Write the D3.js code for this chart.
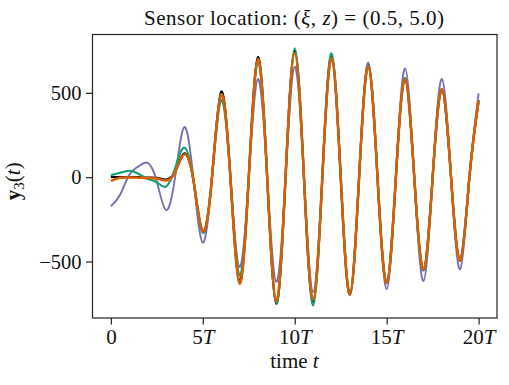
<!DOCTYPE html>
<html>
<head>
<meta charset="utf-8">
<script src="https://cdn.jsdelivr.net/npm/d3@7/dist/d3.min.js"></script>
<style>
  body { margin: 0; background: #fff; }
  svg { display: block; }
  text { font-family: "Liberation Serif", "DejaVu Serif", serif; fill: #111; }
</style>
</head>
<body>
<svg id="chart" width="509" height="385"></svg>
<script>
// temps, en multiples de T (pas de 0.5T)
var times = d3.range(0, 20.01, 0.5);

// valeurs, une liste par courbe
var blackVals = [2, 0, 0, 0, -2, -4, -14, 35, 141, -25, -325, 0, 507, 0, -620, 0, 711, 0, -750, 0,
                 750, 0, -740, 0, 720, 0, -695, 0, 665, 0, -627, 0, 586, 0, -552, 0, 521, 0, -493, 0, 455];
var purpleVals = [-172, -104, 15, 64, 85, -25, -195, 5, 297, -20, -388, 0, 490, 0, -533, 0, 582, 0, -621, 0,
                  655, 0, -681, 0, 690, 0, -700, 0, 681, 0, -663, 0, 645, 0, -616, 0, 582, 0, -546, 0, 497];
var greenVals = [12, 26, 38, 20, -10, -30, -55, 55, 175, -25, -330, 0, 457, 0, -582, 0, 685, 0, -745, 0,
                 764, 0, -760, 0, 734, 0, -695, 0, 660, 0, -627, 0, 586, 0, -550, 0, 521, 0, -493, 0, 455];
var orangeVals = [-22, -3, -2, -3, -5, -8, -20, 30, 135, -25, -320, 0, 490, 0, -631, 0, 700, 0, -735, 0,
                  734, 0, -726, 0, 705, 0, -695, 0, 655, 0, -627, 0, 580, 0, -545, 0, 521, 0, -493, 0, 453];

var xTicks = [0, 5, 10, 15, 20];
var xTickLabels = ["0", "5", "10", "15", "20"];
var yTicks = [-500, 0, 500];
var yTickLabels = ["\u2212500", "0", "500"];

//////////////////// MISE EN PAGE ////////////////////
var box = { left: 92.5, right: 497, top: 34.5, bottom: 318 };
var svg = d3.select("#chart");

var x = d3.scaleLinear().domain([-1, 21]).range([box.left, box.right]);
var y = d3.scaleLinear().domain([-835, 846]).range([box.bottom, box.top]);

// courbes : noir dessous, orange dessus
var series = [
  { vals: blackVals, color: "#000000", width: 2.2 },
  { vals: purpleVals, color: "#7570b3", width: 1.9 },
  { vals: greenVals, color: "#1b9e77", width: 2.2 },
  { vals: orangeVals, color: "#d95f02", width: 2.5 }
];

var line = d3.line()
  .x(function(d) { return x(d[0]); })
  .y(function(d) { return y(d[1]); })
  .curve(d3.curveNatural);

var plot = svg.append("g");
series.forEach(function(s) {
  var pts = times.map(function(t, i) { return [t, s.vals[i]]; });
  plot.append("path")
    .datum(pts)
    .attr("d", line)
    .attr("fill", "none")
    .attr("stroke", s.color)
    .attr("stroke-width", s.width)
    .attr("stroke-linejoin", "round");
});

// cadre
svg.append("rect")
  .attr("x", box.left).attr("y", box.top)
  .attr("width", box.right - box.left).attr("height", box.bottom - box.top)
  .attr("fill", "none").attr("stroke", "#2a2a2a").attr("stroke-width", 1.25);

//////////////////// AXES ////////////////////
var xAxis = svg.append("g")
  .attr("transform", "translate(0," + box.bottom + ")")
  .call(d3.axisBottom(x).tickValues(xTicks).tickSize(6.5).tickFormat(""));
xAxis.select(".domain").remove();
xAxis.selectAll(".tick line").attr("stroke", "#2a2a2a").attr("stroke-width", 1.25);
xAxis.selectAll(".tick text").each(function(d, i) {
  var t = d3.select(this)
    .attr("y", 26).attr("dy", 0)
    .attr("font-size", 21).attr("fill", "#111");
  t.append("tspan").text(xTickLabels[i]);
  if (d !== 0) t.append("tspan").attr("font-style", "italic").text("T");
});

var yAxis = svg.append("g")
  .attr("transform", "translate(" + box.left + ",0)")
  .call(d3.axisLeft(y).tickValues(yTicks).tickSize(6.5)
    .tickFormat(function(d, i) { return yTickLabels[i]; }));
yAxis.select(".domain").remove();
yAxis.selectAll(".tick line").attr("stroke", "#2a2a2a").attr("stroke-width", 1.25);
yAxis.selectAll(".tick text")
  .attr("x", -11).attr("dy", "0.33em")
  .attr("font-size", 20.5).attr("fill", "#111")
  .attr("font-family", "Liberation Serif, serif");

//////////////////// TEXTES ////////////////////
var title = svg.append("text")
  .attr("x", 294).attr("y", 25)
  .attr("text-anchor", "middle").attr("font-size", 21)
  .attr("textLength", 300).attr("lengthAdjust", "spacing");
title.append("tspan").text("Sensor location: (");
title.append("tspan").attr("font-style", "italic").text("\u03be");
title.append("tspan").text(", ");
title.append("tspan").attr("font-style", "italic").text("z");
title.append("tspan").text(") = (0.5, 5.0)");

var xlab = svg.append("text")
  .attr("x", 294.5).attr("y", 368)
  .attr("text-anchor", "middle").attr("font-size", 21);
xlab.append("tspan").text("time ");
xlab.append("tspan").attr("font-style", "italic").text("t");

var ylab = svg.append("text")
  .attr("transform", "translate(20," + ((box.top + box.bottom) / 2 + 5) + ") rotate(-90)")
  .attr("text-anchor", "middle").attr("font-size", 21);
ylab.append("tspan").attr("font-weight", "bold").text("y");
ylab.append("tspan").attr("font-size", 15).attr("dy", 4).text("3");
ylab.append("tspan").attr("dy", -4).text("(");
ylab.append("tspan").attr("font-style", "italic").text("t");
ylab.append("tspan").text(")");
</script>
</body>
</html>
